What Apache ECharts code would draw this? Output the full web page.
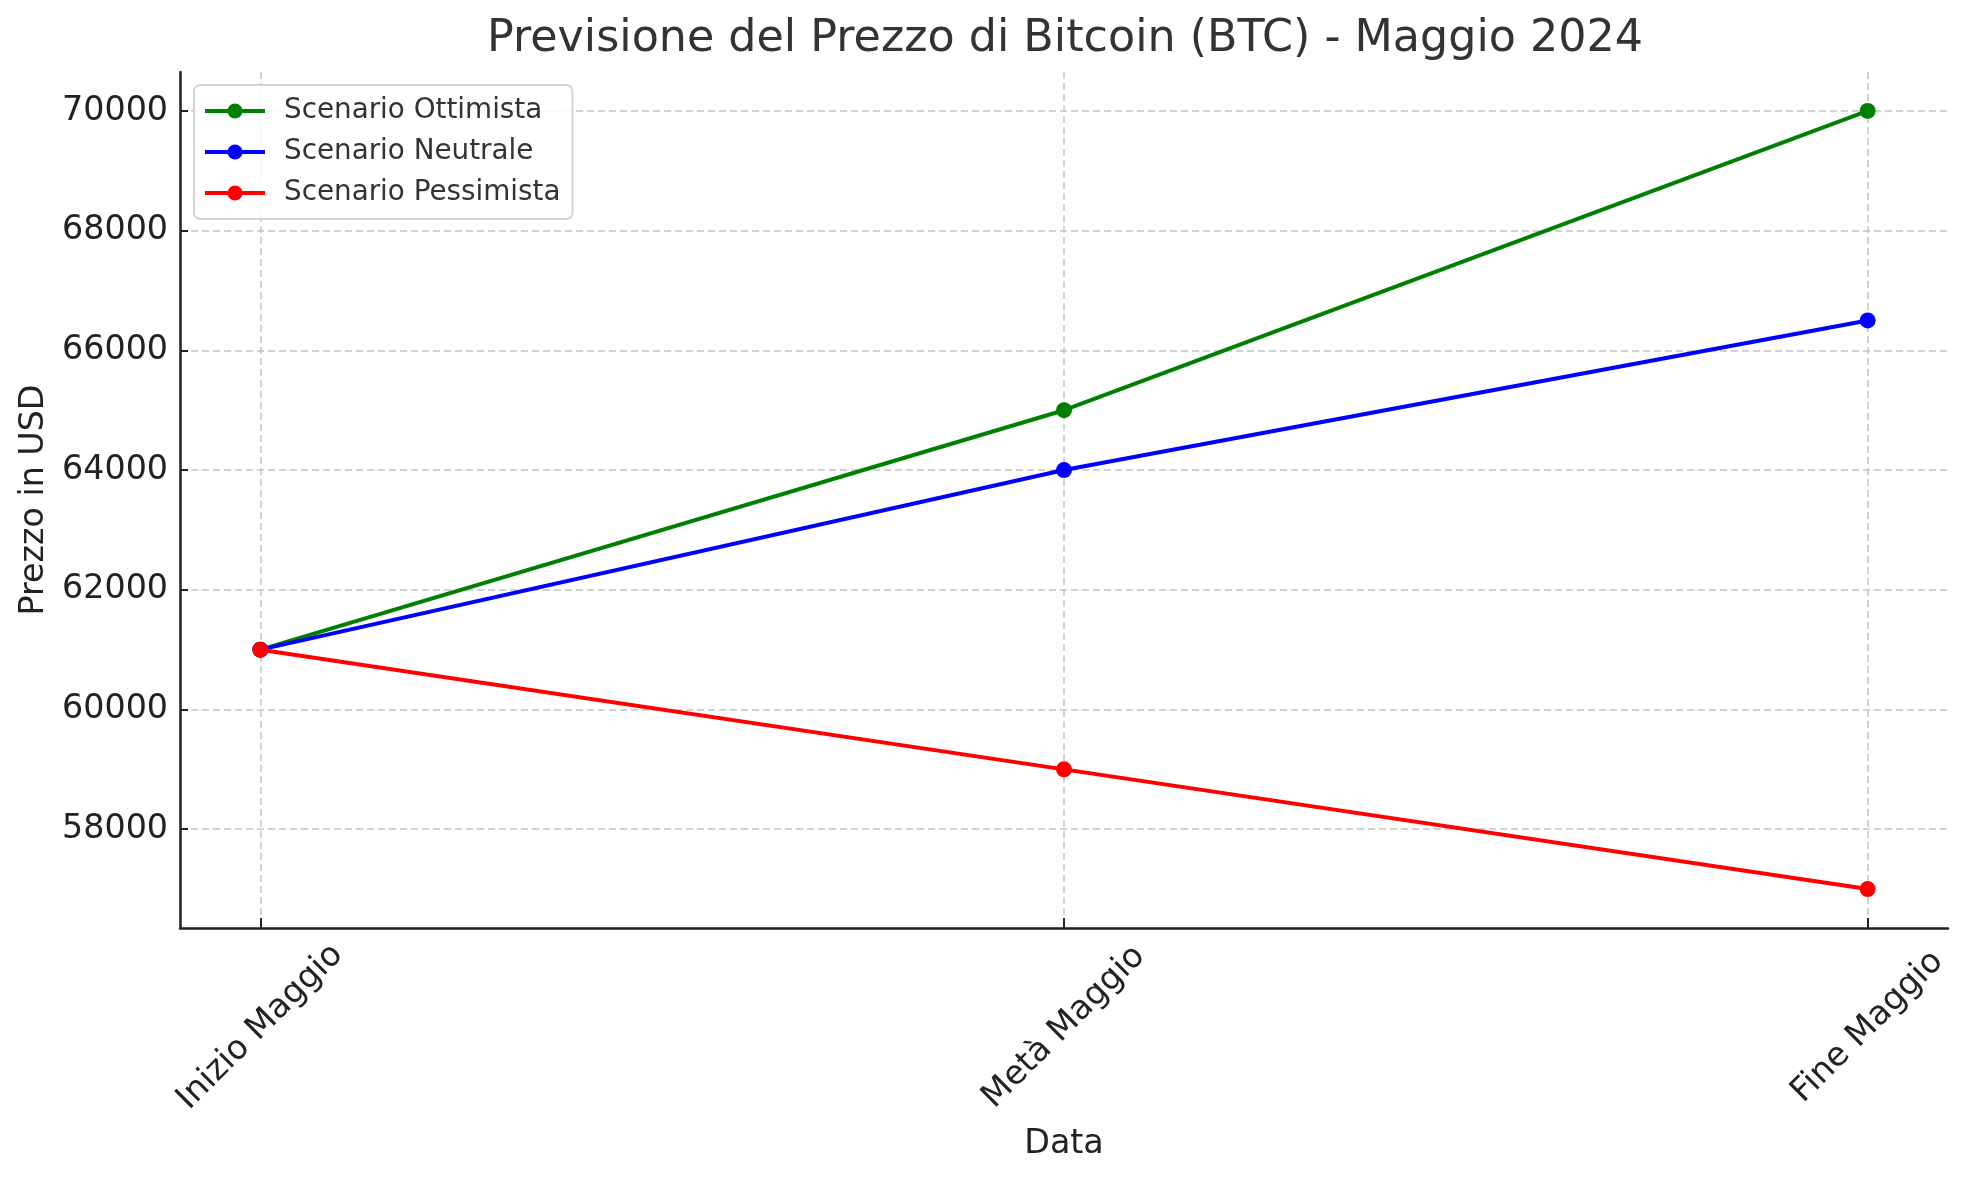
<!DOCTYPE html>
<html>
<head>
<meta charset="utf-8">
<script src="https://cdn.jsdelivr.net/npm/echarts@6/dist/echarts.min.js"></script>
<style>
html,body{margin:0;padding:0;background:#fff;}
#chart{width:1970px;height:1180px;}
</style>
</head>
<body>
<div id="chart"></div>
<script>
const categories = ['Inizio Maggio', 'Metà Maggio', 'Fine Maggio'];
const ottimista = [61000, 65000, 70000];
const neutrale = [61000, 64000, 66500];
const pessimista = [61000, 59000, 57000];
const yTicks = [58000, 60000, 62000, 64000, 66000, 68000, 70000];
const xTicks = [0, 1, 2];

const FONT = 'DejaVu Sans';
const chart = echarts.init(document.getElementById('chart'), null, {renderer: 'canvas'});

function toPairs(vals) { return vals.map((v, i) => [i, v]); }

function mkSeries(name, vals, color) {
  return {
    name: name,
    type: 'line',
    data: toPairs(vals),
    symbol: 'circle',
    symbolSize: 16,
    showSymbol: true,
    lineStyle: {color: color, width: 4},
    itemStyle: {color: color},
    emphasis: {disabled: true},
    animation: false
  };
}

const gridLine = {show: true, lineStyle: {color: '#c4c4c4', width: 1.5, type: [7, 4]}};

chart.setOption({
  animation: false,
  backgroundColor: '#ffffff',
  title: {
    text: 'Previsione del Prezzo di Bitcoin (BTC) - Maggio 2024',
    left: 1060,
    textAlign: 'center',
    top: 12,
    textStyle: {fontFamily: FONT, fontSize: 44.4, fontWeight: 'normal', color: '#333333'}
  },
  legend: {
    orient: 'vertical',
    left: 194,
    top: 85,
    padding: [12, 12, 12, 9],
    itemGap: 13,
    itemWidth: 60,
    itemHeight: 19,
    backgroundColor: 'rgba(255,255,255,0.85)',
    borderColor: '#d4d4d4',
    borderWidth: 2,
    borderRadius: 6,
    lineStyle: {width: 4},
    textStyle: {fontFamily: FONT, fontSize: 27.8, color: '#333333', padding: [0, 0, 0, 14]},
    data: ['Scenario Ottimista', 'Scenario Neutrale', 'Scenario Pessimista']
  },
  grid: {left: 180, right: 22, top: 72, bottom: 252, containLabel: false},
  xAxis: {
    type: 'value',
    min: -0.1,
    max: 2.1,
    name: 'Data',
    nameLocation: 'middle',
    nameGap: 200,
    nameTextStyle: {fontFamily: FONT, fontSize: 33.3, color: '#222222'},
    axisLine: {show: true, onZero: false, lineStyle: {color: '#222222', width: 2.5}},
    axisTick: {show: true, inside: true, length: 10, lineStyle: {color: '#222222', width: 2}, customValues: xTicks},
    axisLabel: {
      customValues: xTicks,
      rotate: 45,
      align: 'center',
      verticalAlign: 'middle',
      margin: 99,
      fontFamily: FONT,
      fontSize: 33.3,
      color: '#222222',
      formatter: (v) => categories[Math.round(v)]
    },
    splitLine: gridLine
  },
  yAxis: {
    type: 'value',
    min: 56350,
    max: 70650,
    name: 'Prezzo in USD',
    nameLocation: 'middle',
    nameGap: 129,
    nameTextStyle: {fontFamily: FONT, fontSize: 33.3, color: '#222222'},
    axisLine: {show: true, onZero: false, lineStyle: {color: '#222222', width: 2.5}},
    axisTick: {show: true, inside: true, length: 8, lineStyle: {color: '#222222', width: 2}, customValues: yTicks},
    axisLabel: {customValues: yTicks, margin: 12, fontFamily: FONT, fontSize: 33.3, color: '#222222', formatter: (v) => String(v)},
    splitLine: gridLine
  },
  series: [
    mkSeries('Scenario Ottimista', ottimista, '#008000'),
    mkSeries('Scenario Neutrale', neutrale, '#0000ff'),
    mkSeries('Scenario Pessimista', pessimista, '#ff0000')
  ]
});
</script>
</body>
</html>
